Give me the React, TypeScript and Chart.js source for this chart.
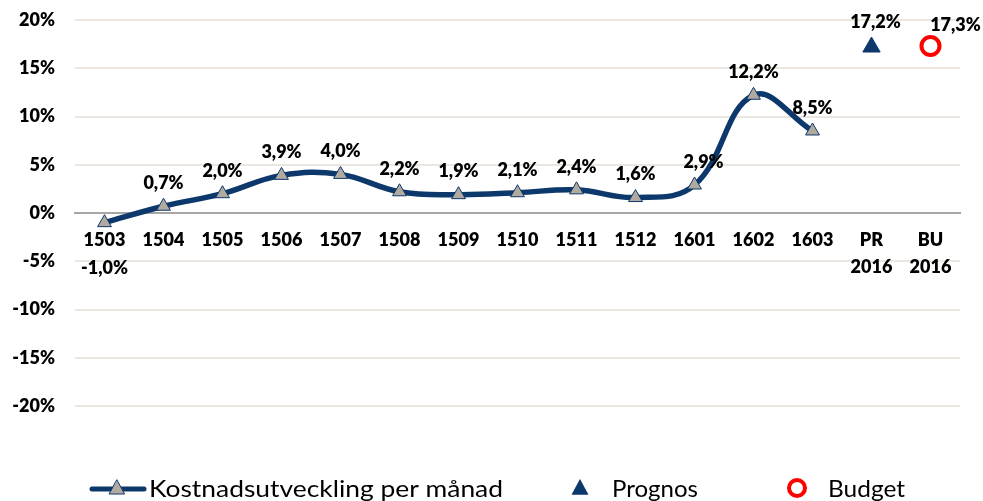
import React, { useEffect, useRef } from 'react';
import { Chart, registerables } from 'chart.js';

Chart.register(...registerables);

const categories: (string | string[])[] = [
  '1503', '1504', '1505', '1506', '1507', '1508', '1509', '1510', '1511', '1512',
  '1601', '1602', '1603', ['PR', '2016'], ['BU', '2016'],
];
const monthlyValues = [-1.0, 0.7, 2.0, 3.9, 4.0, 2.2, 1.9, 2.1, 2.4, 1.6, 2.9, 12.2, 8.5];
const prognosValue = 17.2;
const budgetValue = 17.3;
const yMin = -20;
const yMax = 20;
const yStep = 5;
const legendLabels = ['Kostnadsutveckling per månad', 'Prognos', 'Budget'];

const NAVY = '#0d386b';
const GRAY = '#b0aaa1';
const RED = '#ff0000';
const FONT = 'Lato, "Open Sans", sans-serif';
const BOLD = 800;

const fmt = (v: number) => v.toFixed(1).replace('.', ',') + '%';

const labelsPlugin = {
  id: 'valueLabels',
  afterDatasetsDraw(chart: any) {
    const ctx = chart.ctx;
    ctx.save();
    ctx.font = `${BOLD} 18px ${FONT}`;
    ctx.fillStyle = '#000';
    ctx.textAlign = 'center';
    ctx.textBaseline = 'middle';
    chart.data.datasets.forEach((ds: any, di: number) => {
      const meta = chart.getDatasetMeta(di);
      meta.data.forEach((el: any, i: number) => {
        const v = ds.data[i];
        if (v === null || v === undefined) return;
        let x = el.x;
        let y = el.y - 23;
        if (v < 0) y = el.y + 46;
        if (di === 0 && i === 10) x += 9;
        if (di === 1) { x += 4; y = el.y - 25; }
        if (di === 2) { x += 25; y = el.y - 21; }
        ctx.fillText(fmt(v), x, y);
      });
    });
    ctx.restore();
  },
};

const fitText = (ctx: any, text: string, x: number, y: number, w: number) => {
  const m = ctx.measureText(text).width;
  ctx.save();
  ctx.translate(x, y);
  ctx.scale(w / m, 1);
  ctx.fillText(text, 0, 0);
  ctx.restore();
};

const legendPlugin = {
  id: 'customLegend',
  afterDraw(chart: any) {
    const ctx = chart.ctx;
    const y = chart.height - 12;
    ctx.save();
    ctx.strokeStyle = NAVY;
    ctx.lineWidth = 5;
    ctx.lineCap = 'round';
    ctx.beginPath();
    ctx.moveTo(92, y);
    ctx.lineTo(144, y);
    ctx.stroke();
    const tri = (cx: number, cy: number, r: number, fill: string, stroke: string | null) => {
      ctx.beginPath();
      ctx.moveTo(cx, cy - r);
      ctx.lineTo(cx + r * 0.95, cy + r * 0.75);
      ctx.lineTo(cx - r * 0.95, cy + r * 0.75);
      ctx.closePath();
      ctx.fillStyle = fill;
      ctx.fill();
      if (stroke) { ctx.strokeStyle = stroke; ctx.lineWidth = 1; ctx.stroke(); }
    };
    tri(117, y - 1, 8, GRAY, NAVY);
    tri(580, y - 1, 9, NAVY, null);
    ctx.beginPath();
    ctx.arc(797, y - 1, 8, 0, Math.PI * 2);
    ctx.strokeStyle = RED;
    ctx.lineWidth = 4;
    ctx.stroke();
    ctx.fillStyle = '#000';
    ctx.font = `24px ${FONT}`;
    ctx.textBaseline = 'middle';
    ctx.textAlign = 'left';
    fitText(ctx, legendLabels[0], 149, y, 354);
    fitText(ctx, legendLabels[1], 612, y, 86);
    fitText(ctx, legendLabels[2], 828, y, 77);
    ctx.restore();
  },
};

export default function App() {
  const ref = useRef<HTMLCanvasElement>(null);
  useEffect(() => {
    document.body.style.margin = '0';
    const n = categories.length;
    const lineData = categories.map((_, i) => (i < monthlyValues.length ? monthlyValues[i] : null));
    const prData = categories.map((_, i) => (i === n - 2 ? prognosValue : null));
    const buData = categories.map((_, i) => (i === n - 1 ? budgetValue : null));
    const chart = new Chart(ref.current!, {
      type: 'line',
      data: {
        labels: categories,
        datasets: [
          {
            label: legendLabels[0],
            data: lineData,
            borderColor: NAVY,
            borderWidth: 5.5,
            tension: 0.4,
            pointStyle: 'triangle',
            pointRadius: 8,
            pointBackgroundColor: GRAY,
            pointBorderColor: NAVY,
            pointBorderWidth: 1,
            spanGaps: false,
          },
          {
            label: legendLabels[1],
            data: prData,
            showLine: false,
            pointStyle: 'triangle',
            pointRadius: 10,
            pointBackgroundColor: NAVY,
            pointBorderColor: NAVY,
            pointBorderWidth: 1,
          },
          {
            label: legendLabels[2],
            data: buData,
            showLine: false,
            pointStyle: 'circle',
            pointRadius: 9,
            pointBackgroundColor: 'rgba(0,0,0,0)',
            pointBorderColor: RED,
            pointBorderWidth: 4,
          },
        ],
      } as any,
      options: {
        responsive: false,
        animation: false,
        layout: { padding: { top: 20, right: 23, bottom: 95, left: 0 } },
        plugins: { legend: { display: false }, tooltip: { enabled: false } },
        scales: {
          x: {
            position: { y: 0 } as any,
            offset: true,
            grid: { display: false, drawTicks: false },
            border: { display: true, color: '#a6a6a6', width: 2 },
            ticks: {
              color: '#000',
              font: { family: FONT, size: 18, weight: BOLD, lineHeight: 1.5 },
              padding: 14,
              maxRotation: 0,
              autoSkip: false,
            },
            afterFit: (s: any) => { s.height = 0; },
          },
          y: {
            min: yMin,
            max: yMax,
            border: { display: false },
            grid: {
              drawTicks: false,
              lineWidth: 2,
              color: (c: any) => (c.tick && c.tick.value === 0 ? '#a6a6a6' : '#ebe6df'),
            },
            ticks: {
              stepSize: yStep,
              color: '#000',
              padding: 20,
              font: { family: FONT, size: 18, weight: BOLD },
              callback: (v: any) => v + '%',
            },
            afterFit: (s: any) => { s.width = 75; s.paddingTop = 0; s.paddingBottom = 0; },
          },
        },
      } as any,
      plugins: [labelsPlugin, legendPlugin],
    });
    return () => chart.destroy();
  }, []);
  return (
    <div style={{ width: 983, height: 501 }}>
      <canvas ref={ref} width={983} height={501} />
    </div>
  );
}
